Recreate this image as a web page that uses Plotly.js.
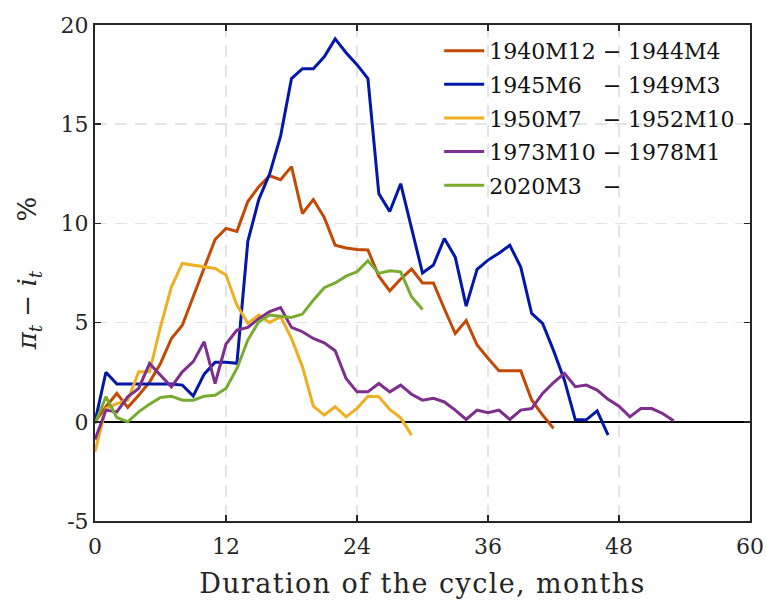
<!DOCTYPE html>
<html><head><meta charset="utf-8">
<script src="https://cdn.plot.ly/plotly-3.0.1.min.js"></script>
<style>html,body{margin:0;padding:0;background:#fff}#chart{width:766px;height:603px}
.xtitle{letter-spacing:1.4px}</style>
</head><body><div id="chart"></div>
<script>
const seriesNames = [
  "1940M12 \u2212 1944M4",
  "1945M6\u00A0\u00A0 \u2212 1949M3",
  "1950M7\u00A0\u00A0 \u2212 1952M10",
  "1973M10 \u2212 1978M1",
  "2020M3\u00A0\u00A0 \u2212"
];
const seriesColors = ["#C24A05", "#0318A8", "#EFAF22", "#7E2F8E", "#77AC30"];

const s1940 = [0, 0.76, 1.43, 0.72, 1.34, 2.0, 2.94, 4.2, 4.87, 6.3, 7.73, 9.19, 9.75, 9.6, 11.1, 11.85, 12.4, 12.2, 12.86, 10.5, 11.2, 10.3, 8.9, 8.76, 8.69, 8.66, 7.34, 6.6, 7.2, 7.7, 7.0, 7.0, 5.7, 4.45, 5.1, 3.87, 3.2, 2.57, 2.57, 2.57, 1.1, 0.34, -0.33];
const s1945 = [0, 2.5, 1.9, 1.9, 1.9, 1.9, 1.9, 1.9, 1.85, 1.3, 2.4, 3.0, 3.0, 2.95, 9.1, 11.2, 12.5, 14.4, 17.3, 17.8, 17.8, 18.4, 19.3, 18.6, 18.0, 17.3, 11.5, 10.6, 12.0, 9.75, 7.5, 7.9, 9.24, 8.3, 5.83, 7.68, 8.15, 8.5, 8.9, 7.8, 5.46, 4.96, 3.6, 2.1, 0.1, 0.1, 0.55, -0.67];
const s1950 = [-1.5, 0.67, 0.92, 1.09, 2.52, 2.52, 4.79, 6.8, 7.98, 7.9, 7.8, 7.73, 7.4, 5.88, 4.96, 5.38, 5.0, 5.3, 4.2, 2.77, 0.79, 0.34, 0.76, 0.25, 0.67, 1.29, 1.26, 0.62, 0.2, -0.67];
const s1973 = [-0.89, 0.59, 0.5, 1.26, 1.68, 2.94, 2.35, 1.76, 2.52, 3.03, 4.03, 1.93, 3.92, 4.62, 4.76, 5.2, 5.55, 5.76, 4.76, 4.54, 4.2, 3.98, 3.58, 2.18, 1.51, 1.51, 1.93, 1.51, 1.85, 1.39, 1.09, 1.18, 1.0, 0.59, 0.12, 0.59, 0.46, 0.59, 0.12, 0.59, 0.67, 1.43, 1.97, 2.44, 1.77, 1.85, 1.6, 1.13, 0.79, 0.25, 0.67, 0.67, 0.42, 0.05];
const s2020 = [-0.1, 1.26, 0.22, 0, 0.5, 0.89, 1.23, 1.29, 1.09, 1.09, 1.29, 1.34, 1.68, 2.69, 4.12, 5.04, 5.38, 5.33, 5.26, 5.43, 6.13, 6.76, 7.0, 7.34, 7.56, 8.12, 7.48, 7.61, 7.56, 6.3, 5.66];

const xTicks = [0, 12, 24, 36, 48, 60];
const yTicks = [-5, 0, 5, 10, 15, 20];

const allSeries = [s1940, s1945, s1950, s1973, s2020];
const FONT = "DejaVu Serif, serif";

const traces = allSeries.map((s, i) => ({
  x: s.map((_, k) => k),
  y: s,
  type: "scatter",
  mode: "lines",
  name: seriesNames[i],
  legendgroup: "g" + i,
  line: {color: seriesColors[i], width: 3}
}));

const layout = {
  width: 766, height: 603,
  margin: {l: 95, r: 16, t: 25, b: 82},
  paper_bgcolor: "#fff", plot_bgcolor: "#fff",
  font: {family: FONT, size: 22, color: "#262626"},
  showlegend: true,
  legend: {
    x: 0.985, y: 0.99, xanchor: "right", yanchor: "top",
    bgcolor: "rgba(0,0,0,0)", borderwidth: 0,
    font: {family: FONT, size: 22, color: "#111"},
    traceorder: "grouped", tracegroupgap: 2, itemwidth: 40
  },
  xaxis: {
    range: [0, 60], tickvals: xTicks, ticktext: xTicks.map(String),
    showgrid: true, gridcolor: "#e4e4e4", griddash: "12px,8px", gridwidth: 1.5,
    zeroline: false, showline: true, linecolor: "#262626", linewidth: 2, mirror: "ticks",
    ticks: "inside", ticklen: 6, tickwidth: 1.5, tickcolor: "#262626", ticklabelstandoff: 5,
    tickfont: {family: FONT, size: 22, color: "#262626"},
    title: {text: "Duration of the cycle, months", font: {family: FONT, size: 27, color: "#262626"}, standoff: 16}
  },
  yaxis: {
    range: [-5, 20], tickvals: yTicks, ticktext: yTicks.map(String),
    showgrid: true, gridcolor: "#e4e4e4", griddash: "12px,8px", gridwidth: 1.5,
    zeroline: true, zerolinecolor: "#000", zerolinewidth: 2,
    showline: true, linecolor: "#262626", linewidth: 2, mirror: "ticks",
    ticks: "inside", ticklen: 6, tickwidth: 1.5, tickcolor: "#262626",
    tickfont: {family: FONT, size: 22, color: "#262626"},
    title: {text: "<i>\u03C0<sub>t</sub></i> \u2212 <i>i<sub>t</sub></i>\u00A0\u00A0\u00A0\u00A0\u00A0 %", font: {family: FONT, size: 26, color: "#262626"}, standoff: 16}
  }
};

Plotly.newPlot("chart", traces, layout, {displayModeBar: false, staticPlot: true});
</script>
</body></html>
